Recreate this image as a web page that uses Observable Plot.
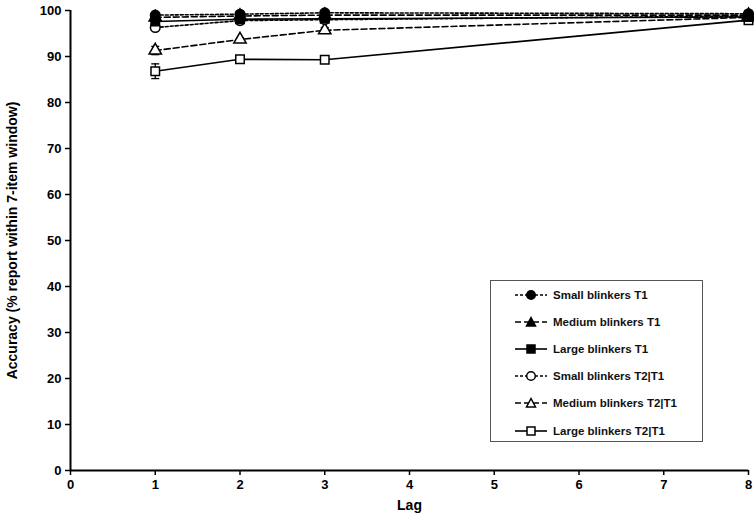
<!DOCTYPE html>
<html><head><meta charset="utf-8">
<script src="https://cdn.jsdelivr.net/npm/d3@7"></script>
<script src="https://cdn.jsdelivr.net/npm/@observablehq/plot@0.6"></script>
<style>
body{margin:0;background:#fff;font-family:"Liberation Sans",Arial,sans-serif;}
#wrap{position:relative;width:754px;height:520px;}
#legend{position:absolute;left:490px;top:280px;width:213px;height:162px;border:1px solid #555;box-sizing:border-box;background:#fff;}
#legend .row{position:absolute;left:0;height:20px;display:flex;align-items:center;font-size:11.5px;font-weight:bold;color:#111;}
#legend svg{margin-left:24px;margin-right:6px;}
</style></head>
<body><div id="wrap"></div>
<script>
const lags = [1, 2, 3, 8];
const seriesNames = ["Small blinkers T1","Medium blinkers T1","Large blinkers T1","Small blinkers T2|T1","Medium blinkers T2|T1","Large blinkers T2|T1"];
const smallT1  = [99.0, 99.2, 99.5, 99.3];
const mediumT1 = [98.5, 98.8, 99.0, 99.0];
const largeT1  = [97.6, 98.1, 98.2, 98.6];
const smallT2  = [96.3, 97.8, 98.0, 98.8];
const mediumT2 = [91.3, 93.7, 95.7, 98.5];
const largeT2  = [86.8, 89.4, 89.3, 97.9];
const errMediumT2 = [0.9, 0.4, 0.6, 0.3];
const errLargeT2  = [1.6, 0.5, 0.5, 0.4];
const xTicks = [0,1,2,3,4,5,6,7,8];
const yTicks = [0,10,20,30,40,50,60,70,80,90,100];

const styles = {
  "Small blinkers T1":     {dash:"3,2", symbol:"circle",   fill:"black"},
  "Medium blinkers T1":    {dash:"6,3", symbol:"triangle", fill:"black"},
  "Large blinkers T1":     {dash:null,  symbol:"square",   fill:"black"},
  "Small blinkers T2|T1":  {dash:"3,2", symbol:"circle",   fill:"white"},
  "Medium blinkers T2|T1": {dash:"6,3", symbol:"triangle", fill:"white"},
  "Large blinkers T2|T1":  {dash:null,  symbol:"square",   fill:"white"}
};
const allVals = [smallT1, mediumT1, largeT1, smallT2, mediumT2, largeT2];
const rows = [];
seriesNames.forEach((s,i)=>lags.forEach((l,j)=>rows.push({series:s, lag:l, acc:allVals[i][j]})));
const errRows = [];
lags.forEach((l,j)=>{
  errRows.push({lag:l, lo:mediumT2[j]-errMediumT2[j], hi:mediumT2[j]+errMediumT2[j]});
  errRows.push({lag:l, lo:largeT2[j]-errLargeT2[j], hi:largeT2[j]+errLargeT2[j]});
});
const capSymbol = {draw(ctx, size){ const w = 4; ctx.moveTo(-w,0); ctx.lineTo(w,0); }};

const marks = [];
marks.push(Plot.ruleX(errRows, {x:"lag", y1:"lo", y2:"hi", stroke:"black", strokeWidth:1.3}));
marks.push(Plot.dot(errRows, {x:"lag", y:"lo", symbol:capSymbol, stroke:"black", strokeWidth:1.3, r:4}));
marks.push(Plot.dot(errRows, {x:"lag", y:"hi", symbol:capSymbol, stroke:"black", strokeWidth:1.3, r:4}));
for (const s of seriesNames.slice().reverse()) {
  const st = styles[s];
  marks.push(Plot.line(rows.filter(d=>d.series===s), {x:"lag", y:"acc", stroke:"black", strokeWidth:1.6, strokeDasharray:st.dash}));
}
for (const s of seriesNames.slice().reverse()) {
  const st = styles[s];
  marks.push(Plot.dot(rows.filter(d=>d.series===s), {x:"lag", y:"acc", symbol:st.symbol, fill:st.fill, stroke:"black", strokeWidth:1.5, r: st.symbol==="triangle"?4.6:4.8}));
}
const chart = Plot.plot({
  width:754, height:520,
  marginLeft:70, marginRight:6, marginTop:10, marginBottom:50,
  style:{fontFamily:"Liberation Sans, Arial, sans-serif", background:"white"},
  x:{domain:[0,8]},
  y:{domain:[0,100]},
  marks:[
    Plot.axisX({ticks:xTicks, tickSize:5, tickPadding:4, fontSize:13, fontWeight:"bold", stroke:"black", strokeWidth:1.5, label:"Lag", labelAnchor:"center", labelArrow:"none", labelOffset:39}),
    Plot.axisY({ticks:yTicks, tickSize:5, tickPadding:4, fontSize:13, fontWeight:"bold", stroke:"black", strokeWidth:1.5, label:"Accuracy (% report within 7-item window)", labelAnchor:"center", labelArrow:"none", labelOffset:63}),
    Plot.ruleY([0], {stroke:"black", strokeWidth:2}),
    Plot.ruleX([0], {stroke:"black", strokeWidth:2}),
    ...marks
  ]
});
chart.querySelectorAll('[aria-label="x-axis label"], [aria-label="y-axis label"]').forEach(g=>{g.setAttribute("font-size","14");g.setAttribute("font-weight","bold");});
document.getElementById("wrap").appendChild(chart);

const legend = document.createElement("div");
legend.id = "legend";
const rowTops = [4, 31, 58, 85, 112, 140];
seriesNames.forEach((s,i)=>{
  const st = styles[s];
  const r = document.createElement("div");
  r.className = "row"; r.style.top = rowTops[i]+"px";
  const sym = st.symbol==="circle" ? `<circle cx="16" cy="8" r="4.3" fill="${st.fill}" stroke="black" stroke-width="1.5"/>`
    : st.symbol==="square" ? `<rect x="12" y="4" width="8" height="8" fill="${st.fill}" stroke="black" stroke-width="1.5"/>`
    : `<path d="M16,3.5 L20.5,12 L11.5,12 Z" fill="${st.fill}" stroke="black" stroke-width="1.5"/>`;
  r.innerHTML = `<svg width="32" height="16"><line x1="0" y1="8" x2="32" y2="8" stroke="black" stroke-width="1.6" ${st.dash?`stroke-dasharray="${st.dash}"`:""}/>${sym}</svg><span>${s}</span>`;
  legend.appendChild(r);
});
document.getElementById("wrap").appendChild(legend);
</script></body></html>
